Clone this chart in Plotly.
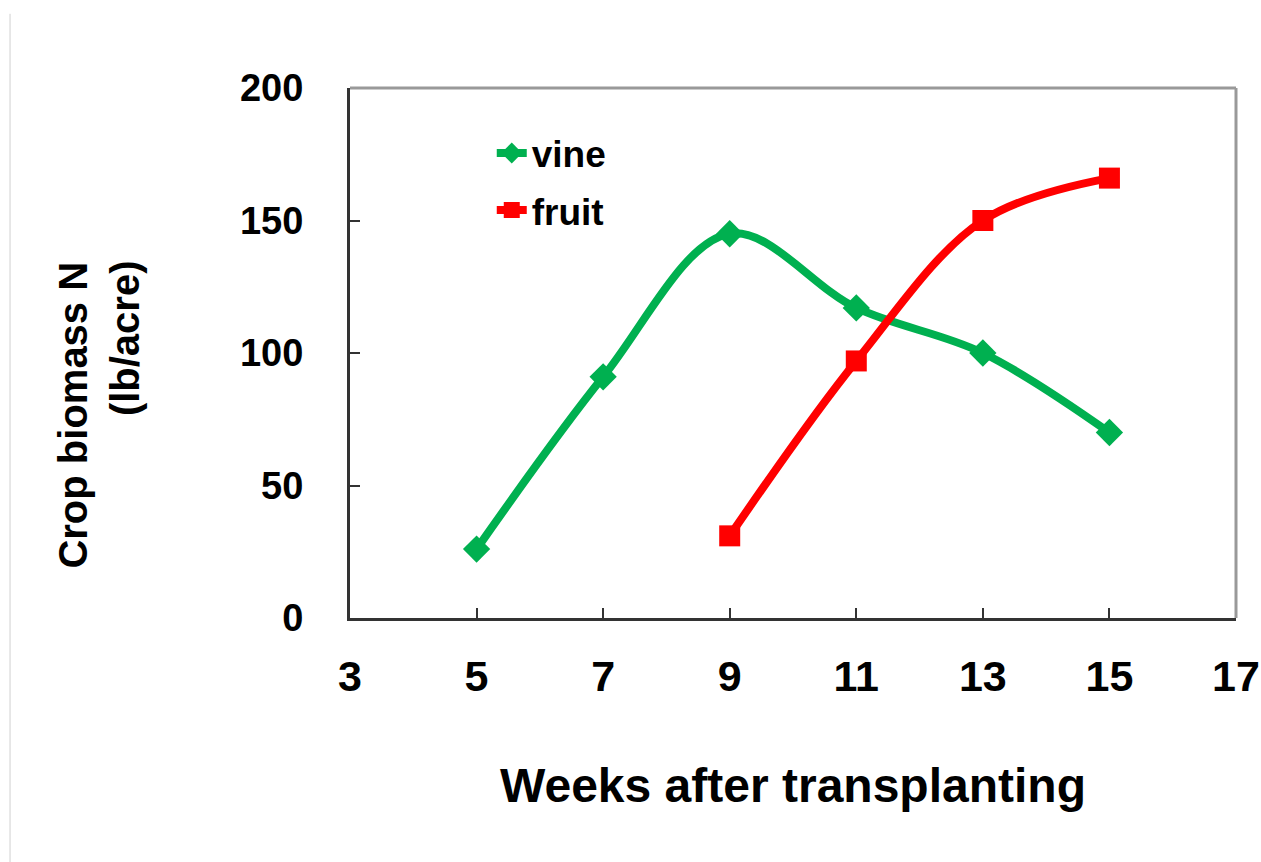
import plotly.graph_objects as go

weeks_vine = [5, 7, 9, 11, 13, 15]
vine_n = [26, 91, 145, 117, 100, 70]
weeks_fruit = [9, 11, 13, 15]
fruit_n = [31, 97, 150, 166]

x_ticks = [3, 5, 7, 9, 11, 13, 15, 17]
y_ticks = [0, 50, 100, 150, 200]

FONT = "Liberation Sans, Arial, sans-serif"
GREEN = "#00b050"
RED = "#ff0000"

fig = go.Figure()
fig.add_trace(go.Scatter(
    x=weeks_vine, y=vine_n, name="vine", mode="lines+markers", legendgroup="v",
    line=dict(color=GREEN, width=8, shape="spline", smoothing=1),
    marker=dict(symbol="diamond", size=21, color=GREEN),
))
fig.add_trace(go.Scatter(
    x=weeks_fruit, y=fruit_n, name="fruit", mode="lines+markers", legendgroup="f",
    line=dict(color=RED, width=8, shape="spline", smoothing=1),
    marker=dict(symbol="square", size=21, color=RED),
))

fig.update_layout(
    width=1261, height=862,
    margin=dict(l=350, r=25, t=88, b=244),
    paper_bgcolor="white", plot_bgcolor="white",
    font=dict(family=FONT, color="black"),
    showlegend=True,
    legend=dict(x=0.16, y=0.935, xanchor="left", yanchor="top",
                font=dict(size=37, family=FONT, weight="bold"),
                bgcolor="rgba(0,0,0,0)", tracegroupgap=6),
    xaxis=dict(range=[3, 17], tickvals=x_ticks, ticks="inside", ticklen=10,
               tickcolor="#333", tickwidth=2, automargin=False,
               showline=True, linecolor="#333", linewidth=3,
               showgrid=False, zeroline=False, ticklabelstandoff=18,
               tickfont=dict(size=43, family=FONT, weight="bold"),
               title=dict(text="Weeks after transplanting", standoff=70,
                          font=dict(size=48, family=FONT, weight="bold"))),
    yaxis=dict(range=[0, 200], tickvals=y_ticks, ticks="inside", ticklen=10,
               tickcolor="#333", tickwidth=2, automargin=False,
               showline=True, linecolor="#333", linewidth=3,
               showgrid=False, zeroline=False, ticklabelstandoff=36,
               tickfont=dict(size=38, family=FONT, weight="bold")),
    annotations=[
        dict(text="Crop biomass N", xref="paper", yref="paper",
             x=-0.3137, y=0.382, textangle=-90, showarrow=False,
             xanchor="center", yanchor="middle",
             font=dict(size=40, family=FONT, weight="bold")),
        dict(text="(lb/acre)", xref="paper", yref="paper",
             x=-0.2540, y=0.528, textangle=-90, showarrow=False,
             xanchor="center", yanchor="middle",
             font=dict(size=40, family=FONT, weight="bold")),
    ],
    shapes=[
        # grey top and right frame
        dict(type="line", xref="paper", yref="paper", x0=0, x1=1, y0=1, y1=1,
             line=dict(color="#999", width=3)),
        dict(type="line", xref="paper", yref="paper", x0=1, x1=1, y0=0, y1=1,
             line=dict(color="#999", width=3)),
        # faint page edge on the left
        dict(type="line", xref="paper", yref="paper", x0=-0.3837, x1=-0.3837,
             y0=-0.5, y1=1.14, line=dict(color="#d0d0d0", width=1)),
    ],
)

# drop the default body margin so the figure fills the window exactly
fig.write_html(
    "out.html",
    config={"displayModeBar": False},
    post_script="document.body.style.margin='0';document.body.style.overflow='hidden';",
)
